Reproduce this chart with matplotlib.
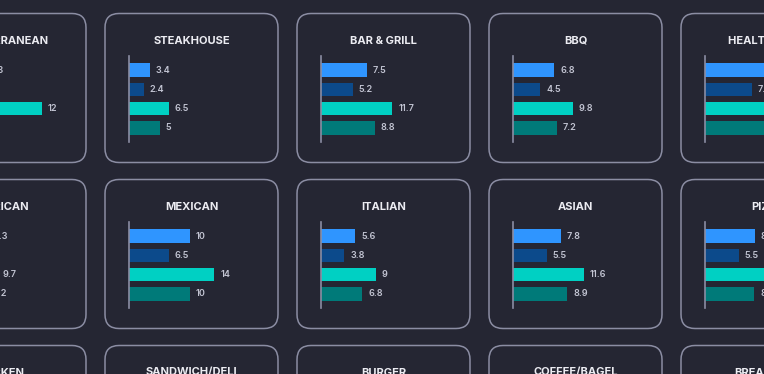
import matplotlib
matplotlib.use("Agg")
import matplotlib.pyplot as plt
from matplotlib.patches import FancyBboxPatch

plt.rcParams['font.family'] = ['Inter', 'DejaVu Sans']

# card grid, row by row (the outer columns are cut off by the frame)
titles = [
    ["MEDITERRANEAN", "STEAKHOUSE", "BAR & GRILL", "BBQ", "HEALTH FOOD"],
    ["AMERICAN", "MEXICAN", "ITALIAN", "ASIAN", "PIZZA"],
    ["CHICKEN", "SANDWICH/DELI", "BURGER", "COFFEE/BAGEL", "BREAKFAST"],
]

# four measures per card, top to bottom
mediterranean = [5.3, 3.5, 12, 4.8]
steakhouse = [3.4, 2.4, 6.5, 5]
bar_grill = [7.5, 5.2, 11.7, 8.8]
bbq = [6.8, 4.5, 9.8, 7.2]
health_food = [11.4, 7.7, 13.8, 12.2]
american = [8.3, 6.1, 9.7, 8.2]
mexican = [10, 6.5, 14, 10]
italian = [5.6, 3.8, 9, 6.8]
asian = [7.8, 5.5, 11.6, 8.9]
pizza = [8.2, 5.5, 12.5, 8.1]

values = {
    "MEDITERRANEAN": mediterranean, "STEAKHOUSE": steakhouse,
    "BAR & GRILL": bar_grill, "BBQ": bbq, "HEALTH FOOD": health_food,
    "AMERICAN": american, "MEXICAN": mexican, "ITALIAN": italian,
    "ASIAN": asian, "PIZZA": pizza,
}
# third row bars sit below the visible area, so only their cards are drawn

bar_colors = ["#2f95ff", "#0c4a8b", "#00d0c3", "#007a79"]
bg = "#252633"
border = "#8b8da3"

W, H = 764, 374
fig = plt.figure(figsize=(W / 100, H / 100), dpi=100, facecolor=bg)

# full-figure layer in pixel units for the cards and titles
base = fig.add_axes([0, 0, 1, 1])
base.set_xlim(0, W)
base.set_ylim(H, 0)
base.axis("off")
base.set_facecolor(bg)

card_w, card_h = 173, 149
col_x = [-87, 105, 297, 489, 681]
row_y = [13.5, 179.5, 345.5]
px_per_unit = 6.1
plot_w = card_w - 48

for r, row in enumerate(titles):
    for c, name in enumerate(row):
        x0, y0 = col_x[c], row_y[r]
        base.add_patch(FancyBboxPatch((x0, y0), card_w, card_h,
                                      boxstyle="round,pad=0,rounding_size=14",
                                      fc=bg, ec=border, lw=1.1))
        base.text(x0 + card_w / 2, y0 + 27, name, ha="center", va="center",
                  color="#ececf2", fontsize=8, fontweight="bold")

        if name not in values:
            continue
        vals = values[name]
        ax = fig.add_axes([(x0 + 24) / W, 1 - (y0 + 128) / H,
                           plot_w / W, 85 / H])
        ax.set_facecolor("none")
        xmax = plot_w / px_per_unit
        if name == "MEDITERRANEAN":
            xmax = plot_w / 8.75
        ax.set_xlim(0, xmax)
        ax.set_ylim(3.7, -0.7)
        ax.barh(range(len(vals)), vals, height=0.7, color=bar_colors)
        for i, v in enumerate(vals):
            ax.annotate(f"{v:g}", (v, i), xytext=(4.3, 0), textcoords="offset points",
                        ha="left", va="center", color="#c3c5d3", fontsize=6.5,
                        fontweight="semibold", annotation_clip=False)
        for s in ["top", "right", "bottom"]:
            ax.spines[s].set_visible(False)
        ax.spines["left"].set_color(border)
        ax.spines["left"].set_linewidth(1.2)
        ax.set_xticks([])
        ax.set_yticks([])

fig.savefig("out.png", dpi=100, facecolor=bg)
